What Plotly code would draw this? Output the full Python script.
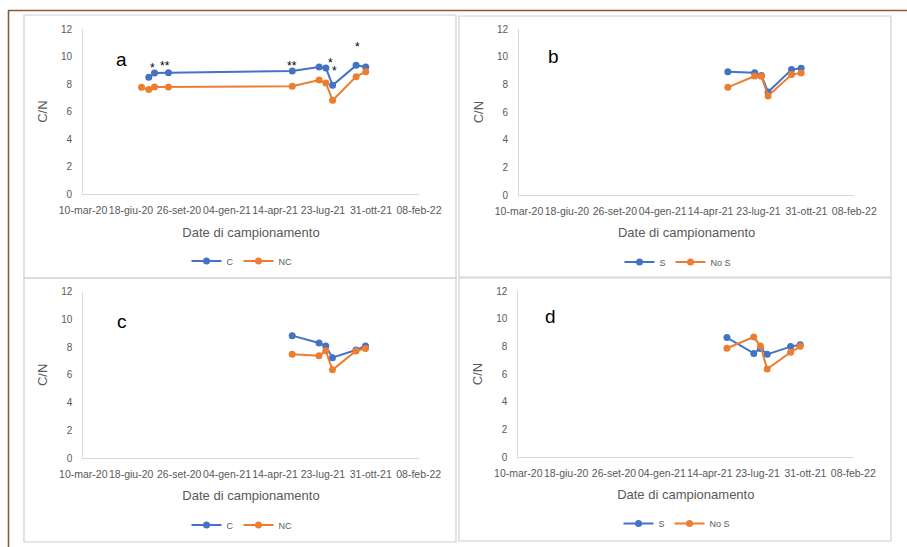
import plotly.graph_objects as go

W, H = 907, 547

# ---------------- data ----------------
dates = ["2020-07-10", "2020-07-25", "2020-08-06", "2020-09-04", "2021-05-20",
         "2021-07-15", "2021-07-29", "2021-08-12", "2021-09-30", "2021-10-20"]
dates_late = dates[4:]

a_C = [None, 8.49, 8.80, 8.83, 8.95, 9.24, 9.17, 7.91, 9.36, 9.24]
a_NC = [7.77, 7.60, 7.79, 7.79, 7.84, 8.30, 8.08, 6.82, 8.54, 8.90]

b_S = [8.93, 8.86, 8.65, 7.46, 9.08, 9.18]
b_NoS = [7.80, 8.62, 8.60, 7.17, 8.72, 8.84]

c_C = [8.83, 8.30, 8.08, 7.24, 7.79, 8.08]
c_NC = [7.48, 7.38, 7.74, 6.37, 7.72, 7.91]

d_S = [8.63, 7.49, 7.85, 7.42, 7.98, 8.12]
d_NoS = [7.86, 8.67, 8.02, 6.36, 7.57, 8.00]

tick_vals = ["2020-03-10", "2020-06-18", "2020-09-26", "2021-01-04",
             "2021-04-14", "2021-07-23", "2021-10-31", "2022-02-08"]
tick_text = ["10-mar-20", "18-giu-20", "26-set-20", "04-gen-21",
             "14-apr-21", "23-lug-21", "31-ott-21", "08-feb-22"]

# significance asterisks in panel a
star_dates = ["2020-08-02", "2020-08-28", "2021-05-19", "2021-08-07", "2021-08-15", "2021-10-02"]
star_y = [9.17, 9.34, 9.34, 9.51, 8.97, 10.67]
star_text = ["*", "**", "**", "*", "*", "*"]

panel_letters = ["a", "b", "c", "d"]
letter_dates = ["2020-05-29", "2020-05-22", "2020-05-29", "2020-05-17"]
letter_y = [9.75, 10.0, 9.84, 10.14]

BLUE = "#4472C4"
ORANGE = "#ED7D31"
GREY_TXT = "#595959"
AX = "#D9D9D9"
FONT = "Liberation Sans, Arial, sans-serif"


def px(x):
    return x / W


def py(y):
    return 1 - y / H


# plot-area pixel boxes: (left, right, top, bottom)
areas = [(83, 419, 29, 194.3), (519, 854.3, 29.3, 195),
         (83.3, 418.7, 291.7, 458), (518.3, 853.3, 291, 457)]
legend_pos = [(242, 261), (678, 262), (242, 525), (677, 523.5)]

series = [
    (dates, a_C, a_NC, "C", "NC"),
    (dates_late, b_S, b_NoS, "S", "No S"),
    (dates_late, c_C, c_NC, "C", "NC"),
    (dates_late, d_S, d_NoS, "S", "No S"),
]

fig = go.Figure()
layout = dict(width=W, height=H, margin=dict(l=0, r=0, t=0, b=0, pad=0, autoexpand=False),
              paper_bgcolor="white", plot_bgcolor="white", template="none",
              font=dict(family=FONT, color=GREY_TXT), showlegend=True)
annotations = []

for i, (x, s1, s2, n1, n2) in enumerate(series):
    k = "" if i == 0 else str(i + 1)
    leg = "legend" if i == 0 else "legend" + str(i + 1)
    for vals, name, col in [(s1, n1, BLUE), (s2, n2, ORANGE)]:
        fig.add_trace(go.Scatter(
            x=x, y=vals, name=name, mode="lines+markers",
            line=dict(color=col, width=2), marker=dict(color=col, size=7),
            xaxis="x" + k, yaxis="y" + k, legend=leg, connectgaps=False))
    l, r, t, b = areas[i]
    layout["xaxis" + k] = dict(
        domain=[px(l), px(r)], anchor="y" + k, type="date", automargin=False,
        range=[tick_vals[0], tick_vals[-1]], tickvals=tick_vals, ticktext=tick_text,
        tickangle=0, showgrid=False, zeroline=False, showline=True, linecolor=AX,
        linewidth=1, ticks="", tickfont=dict(size=10.5, color=GREY_TXT),
        ticklabelstandoff=6,
        title=dict(text="Date di campionamento", font=dict(size=13, color=GREY_TXT), standoff=12))
    layout["yaxis" + k] = dict(
        domain=[py(b), py(t)], anchor="x" + k, range=[0, 12], dtick=2, automargin=False,
        showgrid=False, zeroline=False, showline=True, linecolor=AX, linewidth=1,
        ticks="", tickfont=dict(size=10, color=GREY_TXT), ticklabelstandoff=8,
        title=dict(text="C/N", font=dict(size=13, color=GREY_TXT), standoff=10))
    lx, ly = legend_pos[i]
    layout[leg] = dict(orientation="h", x=px(lx), y=py(ly), xanchor="center", yanchor="middle",
                       font=dict(size=9, color=GREY_TXT), bgcolor="rgba(0,0,0,0)",
                       itemwidth=30, tracegroupgap=0)
    annotations.append(dict(x=letter_dates[i], y=letter_y[i], xref="x" + k, yref="y" + k,
                            text=panel_letters[i], showarrow=False,
                            font=dict(size=19, color="black", family=FONT)))

for d, yv, t in zip(star_dates, star_y, star_text):
    annotations.append(dict(x=d, y=yv, xref="x", yref="y", text=t, showarrow=False,
                            font=dict(size=12, color="black", family=FONT)))

shapes = []
for (x0, y0, x1, y1) in [(24, 15, 456, 278), (459, 16, 891, 277),
                         (24, 278, 456, 542), (459, 278, 891, 541)]:
    shapes.append(dict(type="rect", xref="paper", yref="paper",
                       x0=px(x0), x1=px(x1), y0=py(y1), y1=py(y0),
                       line=dict(color="#D0D0D0", width=1.2), layer="below"))
BROWN = "#8B5A35"
shapes.append(dict(type="line", xref="paper", yref="paper", x0=px(8), x1=1,
                   y0=py(10.5), y1=py(10.5), line=dict(color=BROWN, width=1.6)))
shapes.append(dict(type="line", xref="paper", yref="paper", x0=px(8.5), x1=px(8.5),
                   y0=0, y1=py(10.5), line=dict(color=BROWN, width=1.6)))

layout["annotations"] = annotations
layout["shapes"] = shapes
fig.update_layout(**layout)
fig.write_html("out.html", config={"displayModeBar": False},
               post_script="document.body.style.margin='0px';document.body.style.overflow='hidden';")
